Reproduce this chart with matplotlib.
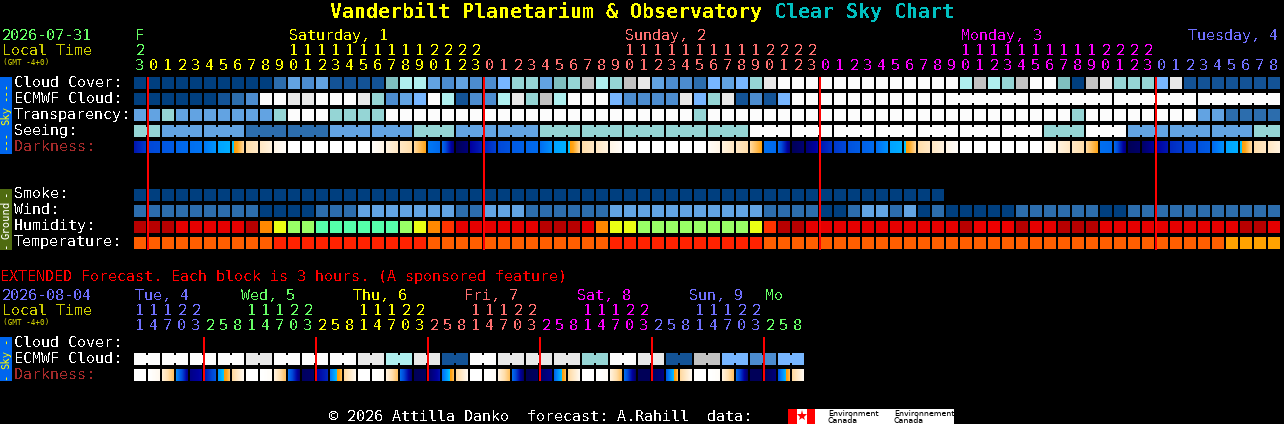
import numpy as np
import matplotlib
matplotlib.use("Agg")
import matplotlib.pyplot as plt
from matplotlib.colors import LinearSegmentedColormap

plt.rcParams['font.family'] = ['DejaVu Sans Mono']
plt.rcParams['text.antialiased'] = False
plt.rcParams['text.hinting'] = 'native'

# ---------- data ----------
title_main = "Vanderbilt Planetarium & Observatory"
title_accent = "Clear Sky Chart"
sky_labels = ["Cloud Cover:", "ECMWF Cloud:", "Transparency:", "Seeing:", "Darkness:"]
ground_labels = ["Smoke:", "Wind:", "Humidity:", "Temperature:"]

cloud_cover = "AAAAAAAAAA" "CEDEBBBBGII" "EDEDDFHHEGH" "JIHJKEDDCFEFHK" "LLLLLLLLLLLLL" "IJIHJLLGAJKHHH" "FKBBBBBBB"
ecmwf_cloud = "AAAAAA" "BCD" "LLKKLLLK" "HDEF" "LIBDDIKHJI" "LLL" "FDDDD" "KFHKBDBF" + "L" * 35
transparency = "EEHEEEEEEEH" "LLL" "HHHH" + "L" * 22 + "H" + "L" * 26 + "H" + "L" * 8 + "EECCCC"
seeing_groups = ["H", "E", "E", "C", "C", "E", "E", "H", "E", "E", "H", "H", "H", "H", "H",
                 "L", "L", "L", "L", "L", "L", "L", "H", "L", "E", "E", "E", "H"]
seeing_sizes = [2] + [3] * 26 + [2]
ecmwf_sizes = [1] * 58 + [6, 6, 6, 6]
darkness_start = [1.3, 2.0, 2.3, 2.6, 2.8, 3.0, 3.9, 4.35, 6.0, 6.3, 6.7, 7, 7, 7, 7, 7, 7, 6.9, 6.6, 6.3, 5.9, 3.0, 2.6, 0.1,
                  1.0, 1.5, 2.0, 2.4, 2.6, 2.8, 3.9, 4.35, 6.0, 6.3, 6.7, 7, 7, 7, 7, 7, 7, 6.9, 6.6, 6.3, 5.9, 2.8, 2.6, 0.1,
                  0.5, 1.3, 1.8, 2.2, 2.5, 2.8, 3.9, 4.35, 6.0, 6.3, 6.7, 7, 7, 7, 7, 7, 7, 6.9, 6.6, 6.3, 5.9, 2.8, 2.6, 0.1,
                  0.3, 1.0, 1.6, 1.9, 2.2, 2.7, 3.9, 4.35, 6.0, 6.3]
darkness_end = [1.8, 2.1, 2.4, 2.7, 2.9, 3.6, 4.1, 5.9, 6.3, 6.6, 6.9, 7, 7, 7, 7, 7, 7, 6.7, 6.3, 6.0, 5.0, 2.7, 0.6, 0.5,
                1.4, 1.9, 2.2, 2.5, 2.7, 3.5, 4.1, 5.9, 6.3, 6.6, 6.9, 7, 7, 7, 7, 7, 7, 6.7, 6.3, 6.0, 5.0, 2.7, 0.6, 0.4,
                1.1, 1.7, 2.0, 2.4, 2.7, 3.5, 4.1, 5.9, 6.3, 6.6, 6.9, 7, 7, 7, 7, 7, 7, 6.7, 6.3, 6.0, 5.0, 2.7, 0.6, 0.3,
                0.9, 1.3, 1.8, 2.0, 2.4, 3.5, 4.1, 5.9, 6.3, 6.6]
smoke = "A" * 58
wind = "CCCCCCCCC" "AAAA" "CCC" "EEEEEEE" "CC" "EEE" "CCCCCC" "EEEEEEEEEEE" "CCCC" "AA" "C" "EE" "C" "E" "A" "C" "AAAAA" "CCCCCC" "AA" + "C" * 11
humidity = "aaa" "bbbbb" "a" "e" "f" "gg" "hhhhhh" "g" "f" "e" "c" "bbbbbb" "aaa" "b" "e" "ff" "gggggggg" "f" "c" "aa" "bbbb" + "bbbbbbb" "a" "ddd" "a" "bb" "aaa" + "b" * 10 + "aa" "b"
temperature = "p" * 10 + "q" * 11 + "p" * 13 + "q" * 11 + "p" * 33 + "r" * 4

hours = [23] + list(range(24)) * 3 + list(range(9))
hour_colors = ["f"] + ["s"] * 24 + ["u"] * 24 + ["m"] * 24 + ["t"] * 9
day_names = ["F", "Saturday, 1", "Sunday, 2", "Monday, 3", "Tuesday, 4"]
day_cols = [0, 11, 35, 59, 75.2]
day_colors = ["f", "s", "u", "m", "t"]

ext_hours = [11, 14, 17, 20, 23] + [2, 5, 8, 11, 14, 17, 20, 23] * 5 + [2, 5, 8]
ext_colors = ["t"] * 5 + ["f"] * 8 + ["s"] * 8 + ["u"] * 8 + ["m"] * 8 + ["t"] * 8 + ["f"] * 3
ext_days = ["Tue, 4", "Wed, 5", "Thu, 6", "Fri, 7", "Sat, 8", "Sun, 9", "Mo"]
ext_day_cols = [0, 7.57, 15.57, 23.5, 31.57, 39.57, 45]
ext_day_colors = ["t", "f", "s", "u", "m", "t", "f"]
ext_ecmwf_groups = ["L", "L", "L", "L", "K", "L", "L", "L", "K", "I", "K", "B", "L", "K", "K", "K", "H", "L", "K", "B", "J", "F", "D", "F"]
ext_darkness_start = [7, 7, 6.5, 3.3, 0.7, 1.3, 3.6, 5.9, 7, 7, 6.6, 2.8, 0.2, 1.0, 3.0, 5.9, 7, 7, 6.6, 2.7, 0.1, 0.3, 2.8, 5.9,
                      7, 7, 6.6, 2.7, 0.05, 0.3, 2.6, 5.9, 7, 7, 6.6, 2.7, 0.1, 0.2, 2.4, 5.9, 7, 7, 6.6, 2.7, 0.1, 0.1, 2.3, 5.9]
ext_darkness_end = [7, 6.8, 5.5, 0.8, 1.1, 2.3, 5.5, 6.8, 7, 6.9, 5.5, 0.5, 0.3, 1.5, 5.4, 6.8, 7, 6.9, 5.5, 0.4, 0.2, 1.2, 5.4, 6.8,
                    7, 6.9, 5.5, 0.3, 0.2, 0.8, 5.4, 6.8, 7, 6.9, 5.5, 0.3, 0.1, 0.6, 5.4, 6.8, 7, 6.9, 5.5, 0.3, 0.1, 0.5, 5.4, 6.8]
midnight_cols = [1, 25, 49, 73]
ext_midnight_cols = [5, 13, 21, 29, 37, 45]

# ---------- style ----------
cloud_palette = dict(A="#003f7f", B="#135396", C="#2c6dad", D="#4c8ccf", E="#62a3e2", F="#77b6ff",
                     G="#7fbfbf", H="#95d5d5", I="#afefef", J="#c2c2c2", K="#e8e8e8", L="#fcfcfc")
heat_palette = dict(a="#b80000", b="#e60000", c="#ff3300", d="#ee0000", e="#ff8800", f="#eaff14",
                    g="#99ff66", h="#55ffaa", p="#ff5e00", q="#ff2200", r="#ffa200")
palette = {**cloud_palette, **heat_palette}
text_palette = dict(f="#66ff66", s="#ffff00", u="#ff7070", m="#ff00ff", t="#7070ff")
stops = [(0, "#000050"), (1, "#0000a0"), (2, "#0048d8"), (3, "#0078f5"), (4, "#00a8ff"), (4.5, "#00c8ff"),
         (4.5, "#ff9900"), (5, "#ffa518"), (6, "#ffddaa"), (7, "#ffffff")]
dark_cmap = LinearSegmentedColormap.from_list("dark", [(v / 7, c) for v, c in stops], N=512)

CELL, PITCH, X0 = 12, 14, 134
FS = 10.8
LABEL = "#ffffff"

fig = plt.figure(figsize=(12.84, 4.24), dpi=100, facecolor="black")
ax = fig.add_axes([0, 0, 1, 1])
ax.set_xlim(0, 1284)
ax.set_ylim(424, 0)
ax.axis("off")


def left(col):
    return X0 + PITCH * np.asarray(col)


def cells(codes, y, sizes=None):
    xs = np.arange(len(codes))
    ax.bar(left(xs), CELL, width=CELL, bottom=y, align="edge", linewidth=0,
           color=[palette[c] for c in codes], zorder=2)
    if sizes is None:
        return
    start = 0
    for n in sizes:
        for i in range(start, start + n - 1):
            ax.bar(left(i) + CELL, CELL - 4, width=PITCH - CELL, bottom=y + 2, align="edge",
                   linewidth=0, color=palette[codes[i]], zorder=2)
        start += n


def darkness(starts, ends, y):
    for i, (a, b) in enumerate(zip(starts, ends)):
        edges = np.linspace(left(i), left(i) + CELL, 13)
        vals = np.linspace(a, b, 12)[None, :]
        ax.pcolormesh(edges, [y, y + CELL], vals, cmap=dark_cmap, vmin=0, vmax=7, zorder=2, linewidth=0)


def txt(x, y, s, color="#ffffff", size=FS, **kw):
    return ax.text(x, y, s, color=color, fontsize=size, va="baseline", **kw)


# ---------- titles ----------
txt(330, 18, title_main, "#ffff00", 14.4, weight="bold")
txt(774, 18, title_accent, "#00c0c0", 14.4, weight="bold")

# ---------- main grid ----------
txt(2, 40, "2026-07-31", "#66ff66")
txt(2, 55, "Local Time", "#cccc00")
txt(3, 65, "(GMT -4+0)", "#cccc00", 5.6, antialiased=True)
for name, col, c in zip(day_names, day_cols, day_colors):
    txt(left(col) + 1, 40, name, text_palette[c])
for i, (h, c) in enumerate(zip(hours, hour_colors)):
    x = left(i) + CELL / 2
    txt(x, 70, str(h % 10), text_palette[c], ha="center")
    if h >= 10:
        txt(x, 55, str(h // 10), text_palette[c], ha="center")

for name, y in zip(sky_labels, [87, 103, 119, 135, 151]):
    txt(14, y, name, "#a52a2a" if name.startswith("Dark") else LABEL)
for name, y in zip(ground_labels, [198, 214, 230, 246]):
    txt(14, y, name, LABEL)

seeing = "".join(c * n for c, n in zip(seeing_groups, seeing_sizes))
cells(cloud_cover, 77)
cells(ecmwf_cloud, 93, ecmwf_sizes)
cells(transparency, 109)
cells(seeing, 125, seeing_sizes)
darkness(darkness_start, darkness_end, 141)
cells(smoke, 189)
cells(wind, 205)
cells(humidity, 221)
cells(temperature, 237)

for col in midnight_cols:
    ax.bar(left(col) - 1, 173, width=2, bottom=77, align="edge", color="#ff0000", linewidth=0, zorder=3)

# ---------- extended grid ----------
txt(0, 281, "EXTENDED Forecast. Each block is 3 hours. (A sponsored feature)", "#ff0000")
txt(2, 300, "2026-08-04", "#7070ff")
txt(2, 315, "Local Time", "#cccc00")
txt(3, 325, "(GMT -4+0)", "#cccc00", 5.6, antialiased=True)
for name, col, c in zip(ext_days, ext_day_cols, ext_day_colors):
    txt(left(col) + 1, 300, name, text_palette[c])
for i, (h, c) in enumerate(zip(ext_hours, ext_colors)):
    x = left(i) + CELL / 2
    txt(x, 330, str(h % 10), text_palette[c], ha="center")
    if h >= 10:
        txt(x, 315, str(h // 10), text_palette[c], ha="center")
for name, y in zip(["Cloud Cover:", "ECMWF Cloud:", "Darkness:"], [347, 363, 379]):
    txt(14, y, name, "#a52a2a" if name.startswith("Dark") else LABEL)

ext_sizes = [2] * len(ext_ecmwf_groups)
cells("".join(c * 2 for c in ext_ecmwf_groups), 353, ext_sizes)
darkness(ext_darkness_start, ext_darkness_end, 369)
for col in ext_midnight_cols:
    ax.bar(left(col) - 1, 44, width=2, bottom=337, align="edge", color="#ff0000", linewidth=0, zorder=3)

# ---------- side tabs ----------
TAB = 7.6
for y0, y1, bg, fg, word, dash, off in [(77, 154, "#0066ee", "#ffff00", "Sky", "---", 24.5),
                                        (189, 250, "#4f6b10", "#ffffff", "Ground", "-", 26),
                                        (337, 381, "#0066ee", "#ffff00", "Sky", "-", 18)]:
    mid = (y0 + y1) / 2
    ax.bar(0, y1 - y0, width=12, bottom=y0, align="edge", color=bg, linewidth=0)
    ax.text(6, mid, word, color=fg, fontsize=TAB, rotation=90, ha="center", va="center", antialiased=True)
    for y in (mid - off, mid + off):
        ax.text(6, y, dash, color=fg, fontsize=TAB, rotation=90, ha="center", va="center", antialiased=True)

# ---------- footer ----------
txt(329, 421, "\u00a9 2026 Attilla Danko  forecast: A.Rahill  data:")
ax.bar(788, 15, width=27, bottom=409, align="edge", color="#ff0000", linewidth=0)
ax.bar(797, 15, width=10, bottom=409, align="edge", color="#ffffff", linewidth=0)
ax.bar(815, 15, width=139, bottom=409, align="edge", color="#ffffff", linewidth=0)
ax.plot([802], [416], marker="*", color="#ff0000", markersize=8, markeredgewidth=0)
for x, a in [(828, "Environment"), (894, "Environnement")]:
    ax.text(x, 416, a, color="black", fontsize=5.7, family="DejaVu Sans", va="baseline", antialiased=True)
    ax.text(x, 423, "Canada", color="black", fontsize=5.7, family="DejaVu Sans", va="baseline", antialiased=True)

fig.savefig("out.png", dpi=100, facecolor="black")
